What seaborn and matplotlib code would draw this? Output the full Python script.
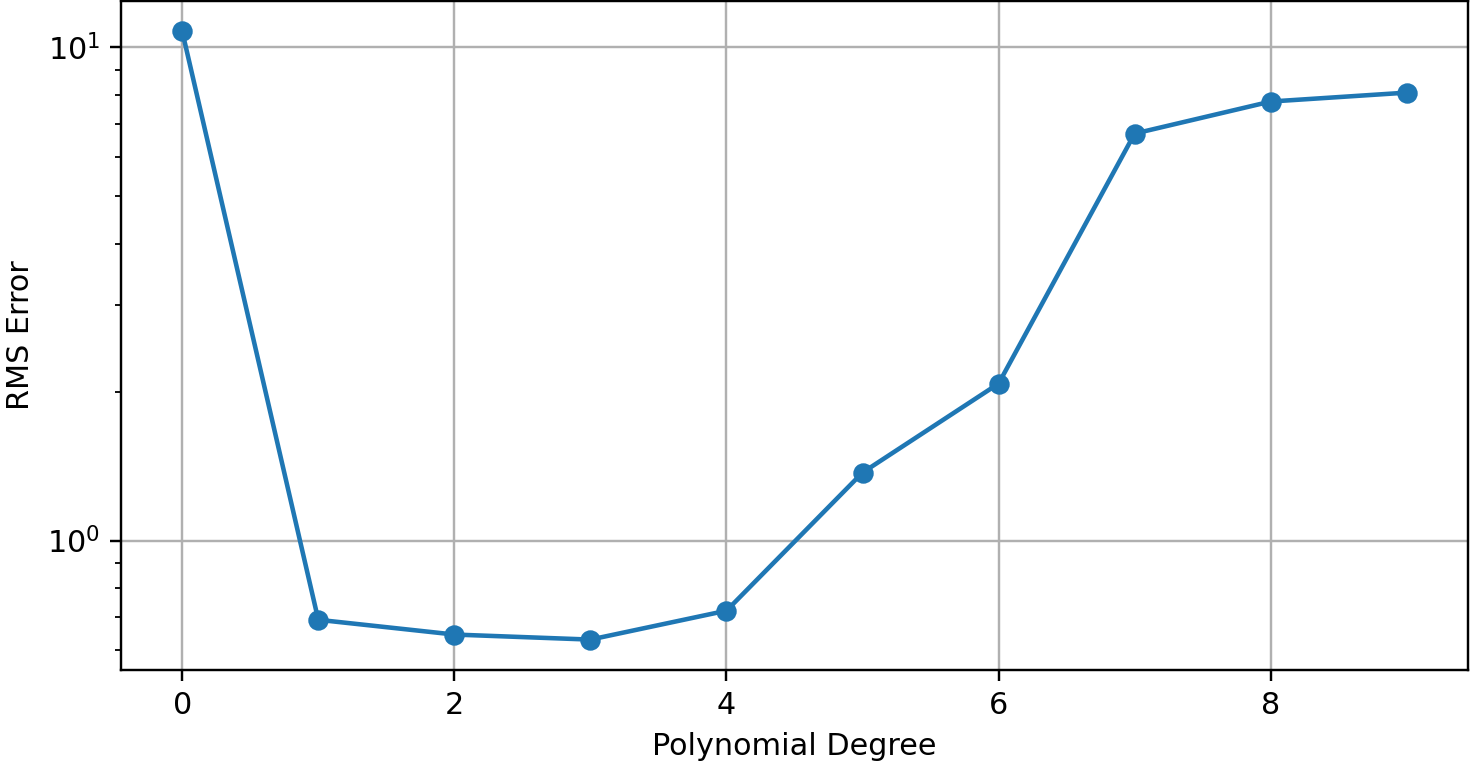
import matplotlib
matplotlib.use("Agg")
import matplotlib.pyplot as plt
import seaborn as sns
import pandas as pd

degrees = [0, 1, 2, 3, 4, 5, 6, 7, 8, 9]
rms_error = [10.78, 0.691, 0.645, 0.630, 0.721, 1.374, 2.082, 6.69, 7.77, 8.10]

df = pd.DataFrame({"degree": degrees, "rms": rms_error})

DPI = 218
fig = plt.figure(figsize=(1473 / DPI, 763 / DPI), dpi=DPI)
ax = fig.add_axes([121 / 1473, 1 - 670 / 763, (1468 - 121) / 1473, (670 - 1) / 763])
sns.lineplot(data=df, x="degree", y="rms", marker="o", color="#1f77b4",
             markeredgecolor="#1f77b4", markersize=6, linewidth=1.5, ax=ax)
ax.set_yscale("log")
ax.grid(True, which="major", color="#b0b0b0", linewidth=0.8)
ax.set_xlabel("Polynomial Degree")
ax.set_ylabel("RMS Error")
ax.set_xticks([0, 2, 4, 6, 8])
fig.savefig("out.png", dpi=DPI)
